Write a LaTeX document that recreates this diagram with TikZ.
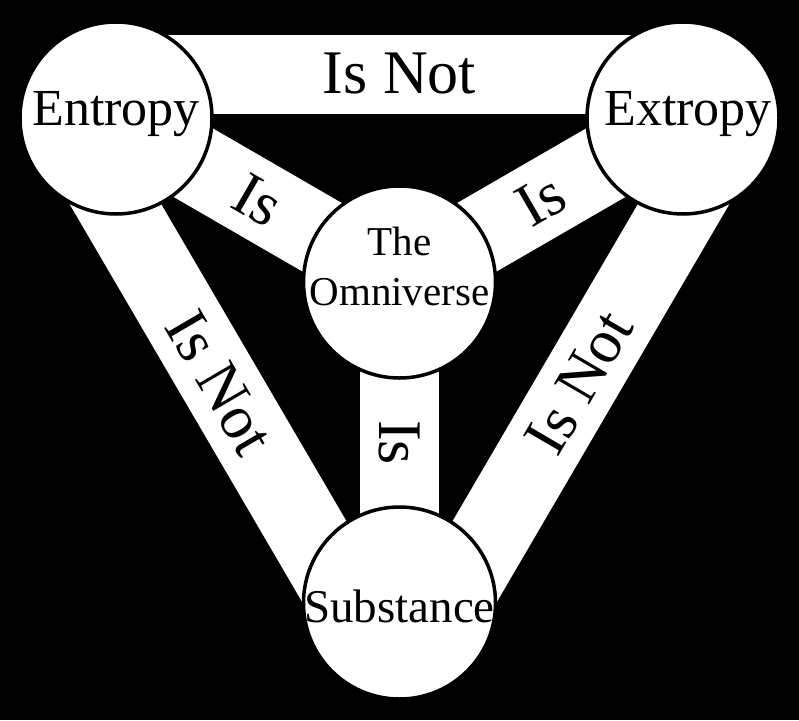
\documentclass[tikz,border=0pt]{standalone}
\usepackage{fontspec}
\setmainfont{Liberation Serif}
\usetikzlibrary{calc}
\pgfdeclarelayer{back}
\pgfsetlayers{back,main}

\begin{document}
\begin{tikzpicture}[x=1pt,y=-1pt,
  disc/.style={circle,draw=black,line width=3.5pt,fill=white,minimum size=192pt,inner sep=0pt},
  band/.style={draw=white,line width=79pt},
  word/.style={inner sep=0pt,text=black,font=\fontsize{62}{70}\selectfont},
  title/.style={inner sep=0pt,text=black,align=center}]
\useasboundingbox (0,0) rectangle (799,720);
\begin{pgfonlayer}{back}
\fill [black] (0,0) rectangle (799,720);
\end{pgfonlayer}
\node [disc] (ent) at (116,118) {};
\node [disc] (ext) at (683,118) {};
\node [disc] (omni) at (399.5,282) {};
\node [disc] (sub) at (399.5,603) {};
\node [title,font=\fontsize{52}{60}\selectfont] (entname) at ([yshift=4pt]ent.center) {Entropy};
\node [title,font=\fontsize{52}{60}\selectfont] (extname) at ([xshift=5pt,yshift=4pt]ext.center) {Extropy};
\node [title,font=\fontsize{41}{50}\selectfont] (omniname) at ([yshift=16pt]omni.center) {The\\Omniverse};
\node [title,font=\fontsize{47}{55}\selectfont] (subname) at ([yshift=-3pt]sub.center) {Substance};
\begin{pgfonlayer}{back}
\draw [band] ($(ent.center)!44pt!90:(ext.center)$) -- node [word] (topnot) {Is Not} ($(ext.center)!44pt!-90:(ent.center)$);
\draw [band] ($(ent.center)!44pt!-90:(sub.center)$) -- node [word,sloped] (leftnot) {Is Not} ($(sub.center)!44pt!90:(ent.center)$);
\draw [band] ($(ext.center)!44pt!90:(sub.center)$) -- node [word,sloped] (rightnot) {Is Not} ($(sub.center)!44pt!-90:(ext.center)$);
\draw [band] (ent.center) -- node [word,sloped] (leftis) {Is} (omni.center);
\draw [band] (ext.center) -- node [word,sloped] (rightis) {Is} (omni.center);
\draw [band] (omni.center) -- node [word,rotate=-90] (downis) {Is} (sub.center);
\end{pgfonlayer}
\end{tikzpicture}
\end{document}
